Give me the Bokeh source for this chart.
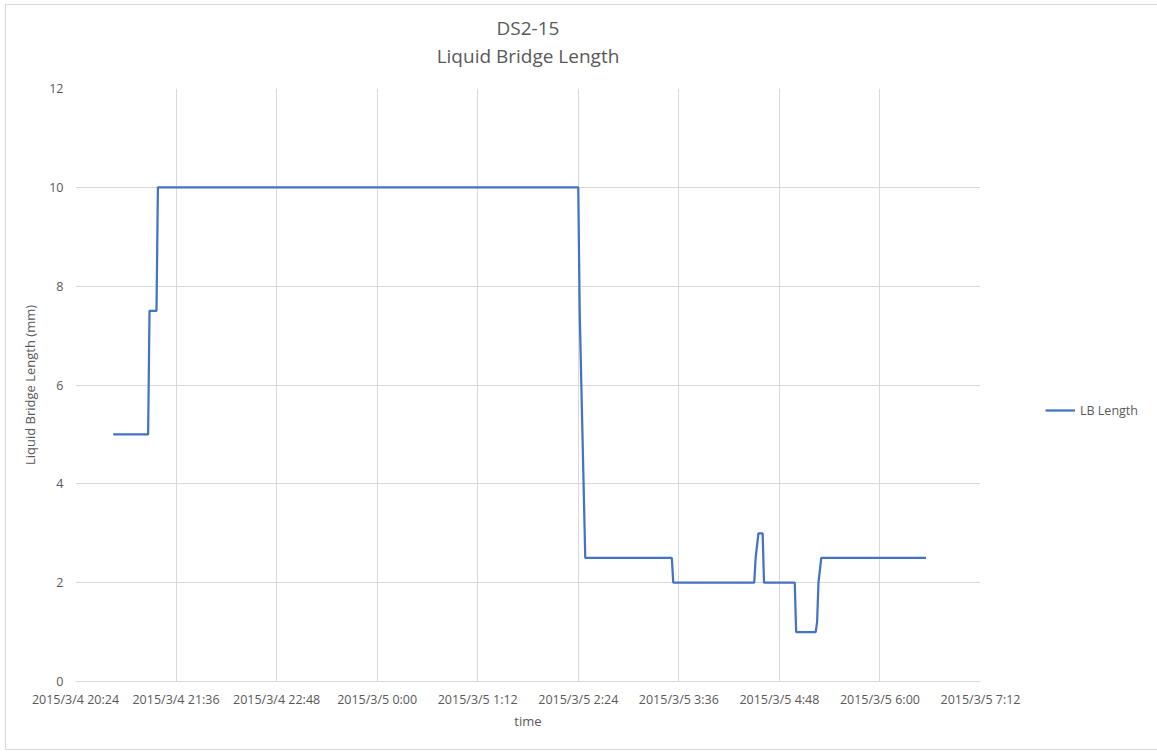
import pandas as pd
from bokeh.plotting import figure
from bokeh.models import FixedTicker, Legend, LegendItem, Range1d, Title
from bokeh.embed import file_html
from bokeh.resources import INLINE

# data
times = [
    "2015/3/4 20:51", "2015/3/4 21:16", "2015/3/4 21:17", "2015/3/4 21:22",
    "2015/3/4 21:23", "2015/3/5 2:24", "2015/3/5 2:25", "2015/3/5 2:27",
    "2015/3/5 2:29", "2015/3/5 3:31", "2015/3/5 3:32", "2015/3/5 4:30",
    "2015/3/5 4:31", "2015/3/5 4:33", "2015/3/5 4:36", "2015/3/5 4:37",
    "2015/3/5 4:59", "2015/3/5 5:00", "2015/3/5 5:14", "2015/3/5 5:15",
    "2015/3/5 5:16", "2015/3/5 5:18", "2015/3/5 6:33",
]
lb_length = [5, 5, 7.5, 7.5, 10, 10, 7.5, 5, 2.5, 2.5, 2, 2, 2.5, 3, 3, 2,
             2, 1, 1, 1.2, 2, 2.5, 2.5]

x_tick_labels = [
    "2015/3/4 20:24", "2015/3/4 21:36", "2015/3/4 22:48", "2015/3/5 0:00",
    "2015/3/5 1:12", "2015/3/5 2:24", "2015/3/5 3:36", "2015/3/5 4:48",
    "2015/3/5 6:00", "2015/3/5 7:12",
]
y_ticks = [0, 2, 4, 6, 8, 10, 12]

FMT = "%Y/%m/%d %H:%M"
x = pd.to_datetime(times, format=FMT)
tick_ms = [int(t.value // 10**6) for t in pd.to_datetime(x_tick_labels, format=FMT)]

FONT = "Open Sans"
GREY = "#595959"
GRID = "#d9d9d9"

p = figure(frame_width=905, frame_height=593, x_axis_type="datetime", title=None,
           output_backend="svg", toolbar_location=None,
           min_border_left=69, min_border_right=170,
           min_border_top=83, min_border_bottom=68)
p.margin = (4, 0, 0, 5)
p.styles = {"border": "1px solid #d9d9d9"}

# title: a blank spacer next to the frame, then the two lines stacked upward
for txt, size in ((" ", "13px"), ("Liquid Bridge Length", "19px"), ("DS2-15", "19px")):
    p.add_layout(Title(text=txt, align="center", text_font=FONT,
                       text_font_size=size, text_font_style="normal",
                       text_color=GREY, standoff=0), "above")

p.x_range = Range1d(tick_ms[0], tick_ms[-1])
p.y_range = Range1d(0, 12)
p.outline_line_color = None

r = p.line(x, lb_length, line_color="#4472C4", line_width=2.25)

p.xaxis.ticker = FixedTicker(ticks=tick_ms)
p.xaxis.major_label_overrides = {t: lab for t, lab in zip(tick_ms, x_tick_labels)}
p.yaxis.ticker = FixedTicker(ticks=y_ticks)

for ax in (p.xaxis[0], p.yaxis[0]):
    ax.major_tick_line_color = None
    ax.minor_tick_line_color = None
    ax.major_tick_out = 0
    ax.major_tick_in = 0
    ax.minor_tick_out = 0
    ax.major_label_text_font = FONT
    ax.major_label_text_font_size = "12.5px"
    ax.major_label_text_color = GREY
    ax.axis_label_text_font = FONT
    ax.axis_label_text_font_size = "13px"
    ax.axis_label_text_font_style = "normal"
    ax.axis_label_text_color = GREY
p.xaxis.axis_line_color = GRID
p.yaxis.axis_line_color = None
p.xaxis.axis_label = "time"
p.yaxis.axis_label = "Liquid Bridge Length (mm)"
p.xaxis.major_label_standoff = 9
p.yaxis.major_label_standoff = 12
p.xaxis.axis_label_standoff = 1
p.yaxis.axis_label_standoff = 7

p.xgrid.ticker = FixedTicker(ticks=tick_ms)
p.xgrid.grid_line_color = GRID
p.ygrid.grid_line_color = GRID

legend = Legend(items=[LegendItem(label="LB Length", renderers=[r])],
                location=(65, 261), border_line_color=None, margin=0,
                background_fill_alpha=0, padding=8, glyph_width=30,
                label_text_font=FONT, label_text_font_size="12.5px",
                label_text_color=GREY)
p.add_layout(legend, "right")

open("out.html", "w").write(file_html(p, INLINE))
